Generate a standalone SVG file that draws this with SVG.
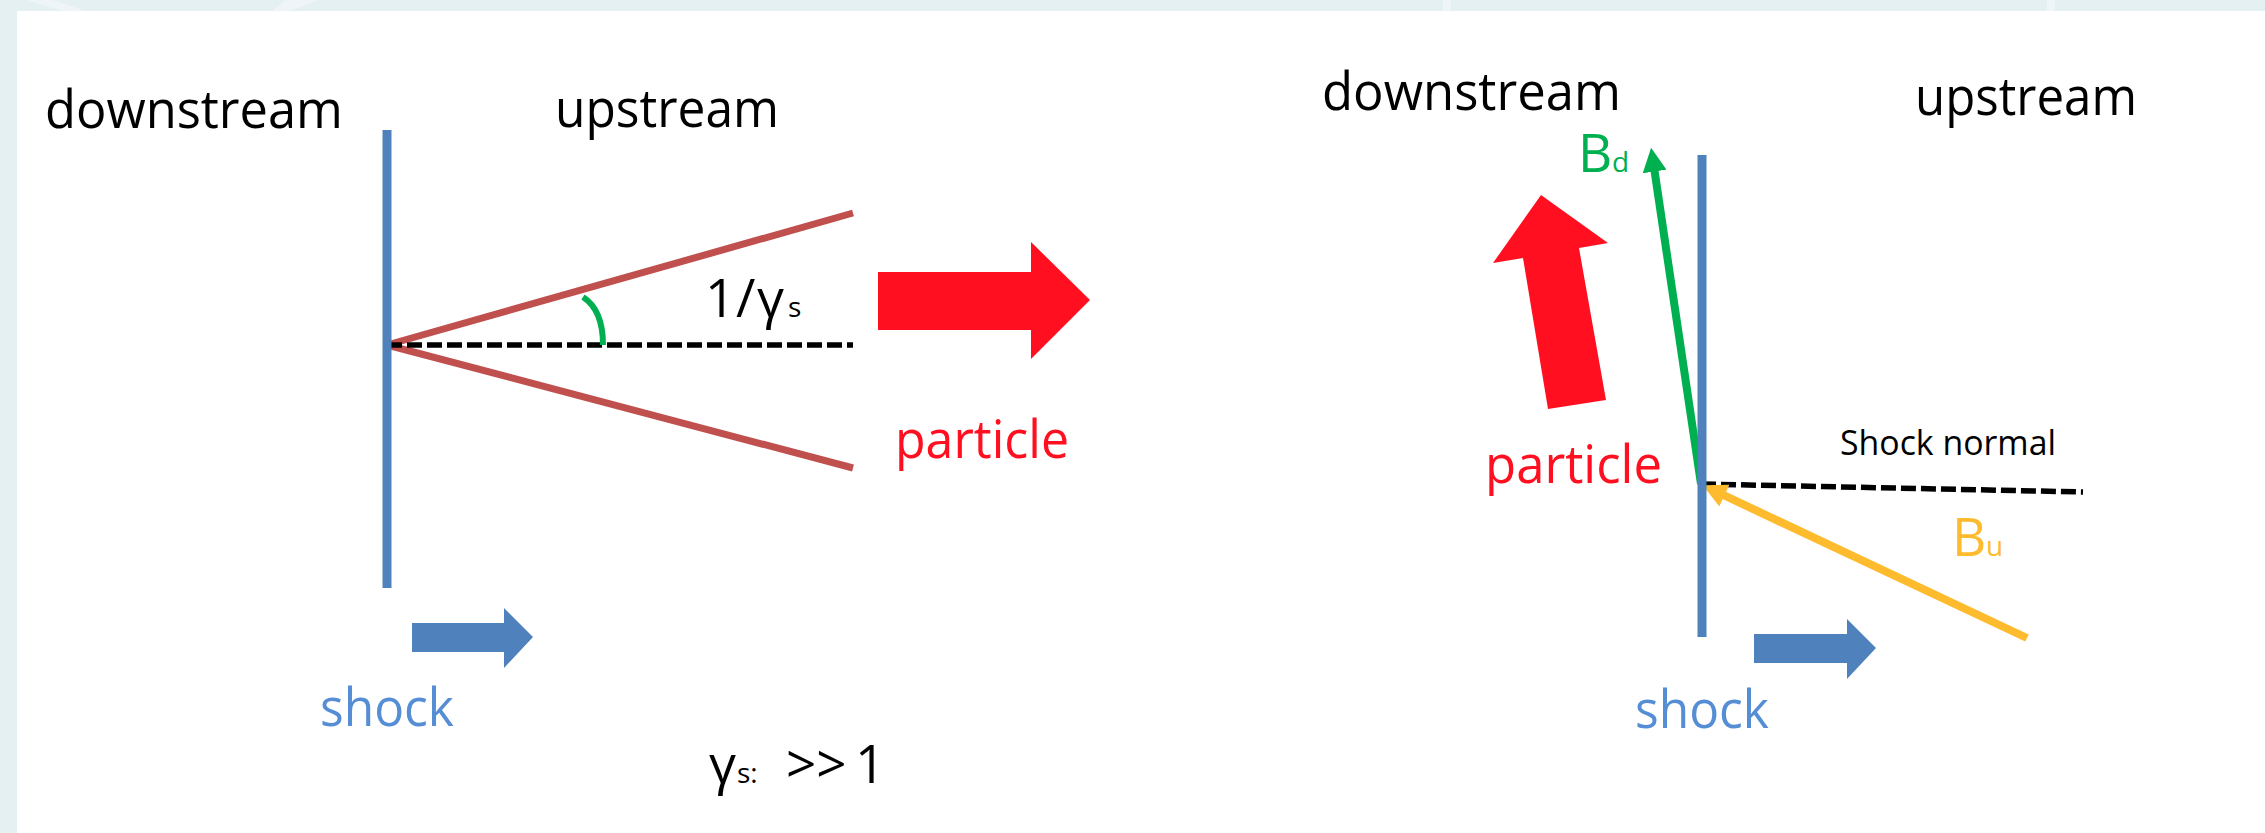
<svg xmlns="http://www.w3.org/2000/svg" width="2265" height="833" viewBox="0 0 2265 833">
<style>
text{font-family:"Open Sans","Liberation Sans",sans-serif}
.big{font-size:53px}
.sub{font-size:28px}
.blk{fill:#000}
.red{fill:#ff0f1f}
.blu{fill:#558ed5}
.shockline{stroke:#4f81bd;stroke-width:9;fill:none}
.cone{stroke:#c0504d;stroke-width:7;fill:none}
.dash{stroke:#000;stroke-width:5.5;stroke-dasharray:15 5;fill:none}
.redarrow{fill:#ff0f1f}
.bluarrow{fill:#4f81bd}
.bg{fill:#e4f0f1}
.deco{fill:#eef4f7}
</style>
<defs>
<marker id="headG" viewBox="0 0 3 3" refX="0.1" refY="1.5" markerWidth="3" markerHeight="3" markerUnits="strokeWidth" orient="auto">
<path d="M0,0 L3,1.5 L0,3 z" fill="#00b050"/>
</marker>
<marker id="headY" viewBox="0 0 3 3" refX="0.1" refY="1.5" markerWidth="3" markerHeight="3" markerUnits="strokeWidth" orient="auto">
<path d="M0,0 L3,1.5 L0,3 z" fill="#fdbb2d"/>
</marker>
</defs>
<g id="background">
<rect class="bg" x="0" y="0" width="2265" height="833"/>
<polygon class="deco" points="27,0 54,0 85,11 62,11"/>
<polygon class="deco" points="285,0 319,0 290,11 272,11"/>
<rect class="deco" x="1443" y="0" width="8" height="11"/>
<rect class="deco" x="2047" y="0" width="8" height="11"/>
<rect x="17" y="11" width="2248" height="822" fill="#fff"/>
</g>
<g id="connectors">
<line class="cone" x1="387" y1="345" x2="853" y2="213"/>
<line class="cone" x1="387" y1="345" x2="853" y2="468"/>
<line class="dash" x1="387" y1="345" x2="853" y2="345"/>
<path d="M583 297 Q603 310 603 345" stroke="#00b050" stroke-width="6" fill="none"/>
<line class="dash" x1="1701" y1="484" x2="2083" y2="492"/>
<line x1="1701" y1="484" x2="1654.5" y2="170.7" stroke="#00b050" stroke-width="8" marker-end="url(#headG)"/>
<line x1="2027" y1="638" x2="1723.7" y2="495.2" stroke="#fdbb2d" stroke-width="8" marker-end="url(#headY)"/>
</g>
<g id="left-downstream"><text class="big blk" x="45" y="128" textLength="298" lengthAdjust="spacingAndGlyphs">downstream</text></g>
<g id="left-upstream"><text class="big blk" x="555" y="127" textLength="224" lengthAdjust="spacingAndGlyphs">upstream</text></g>
<g id="left-shock-front"><line class="shockline" x1="387" y1="130" x2="387" y2="588"/></g>
<g id="left-angle-label"><text class="big blk" y="317"><tspan x="705">1</tspan><tspan x="736">/</tspan><tspan x="757">γ</tspan><tspan class="sub" x="788">s</tspan></text></g>
<g id="left-particle-arrow"><polygon class="redarrow" points="878,272 1031,272 1031,242 1090,300 1031,359 1031,330 878,330"/></g>
<g id="left-particle-label"><text class="big red" x="895" y="458" textLength="174" lengthAdjust="spacingAndGlyphs">particle</text></g>
<g id="left-shock-arrow"><polygon class="bluarrow" points="412,623 504,623 504,608 533,637 504,668 504,652 412,652"/></g>
<g id="left-shock-label"><text class="big blu" x="320" y="726" textLength="134" lengthAdjust="spacingAndGlyphs">shock</text></g>
<g id="gamma-condition"><text class="big blk" y="783"><tspan x="709">γ</tspan><tspan class="sub" x="737">s:</tspan><tspan x="786">&gt;&gt;</tspan><tspan x="855">1</tspan></text></g>
<g id="right-downstream"><text class="big blk" x="1322" y="110" textLength="299" lengthAdjust="spacingAndGlyphs">downstream</text></g>
<g id="right-upstream"><text class="big blk" x="1915" y="115" textLength="222" lengthAdjust="spacingAndGlyphs">upstream</text></g>
<g id="right-shock-front"><line class="shockline" x1="1702" y1="155" x2="1702" y2="637"/></g>
<g id="right-particle-arrow"><polygon class="redarrow" points="1541,195 1608,243 1579,248 1606,400 1548,409 1523,258 1493,263"/></g>
<g id="right-particle-label"><text class="big red" x="1485" y="483" textLength="177" lengthAdjust="spacingAndGlyphs">particle</text></g>
<g id="Bd-label"><text fill="#00b050" class="big" y="172"><tspan x="1578">B</tspan><tspan class="sub" x="1612">d</tspan></text></g>
<g id="Bu-label"><text fill="#fdbb2d" class="big" y="556"><tspan x="1952">B</tspan><tspan class="sub" x="1986">u</tspan></text></g>
<g id="shock-normal-label"><text class="blk" x="1840" y="455" font-size="35" textLength="216" lengthAdjust="spacingAndGlyphs">Shock normal</text></g>
<g id="right-shock-arrow"><polygon class="bluarrow" points="1754,634 1847,634 1847,619 1876,648 1847,679 1847,663 1754,663"/></g>
<g id="right-shock-label"><text class="big blu" x="1635" y="728" textLength="134" lengthAdjust="spacingAndGlyphs">shock</text></g>
</svg>
